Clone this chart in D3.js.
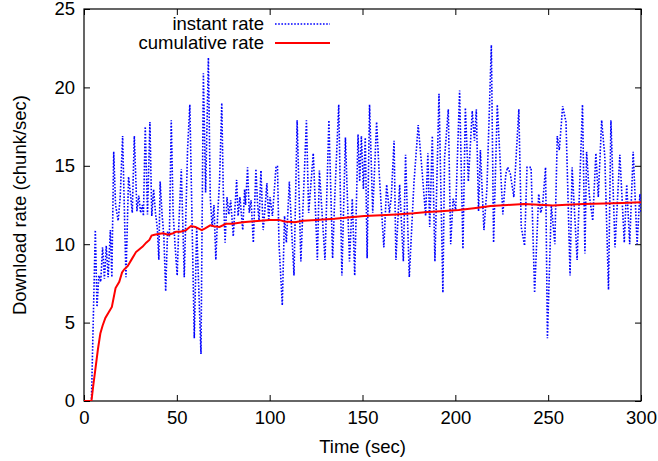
<!DOCTYPE html>
<html>
<head>
<meta charset="utf-8">
<script src="https://cdn.jsdelivr.net/npm/d3@7"></script>
<style>
  html, body { margin: 0; padding: 0; background: #fff; }
  svg { display: block; }
  text { font-family: "Liberation Sans", Arial, Helvetica, sans-serif; fill: #000; }
</style>
</head>
<body>
<svg id="chart" width="658" height="461"></svg>
<script>
// ---- data ----
const xTicks = [0, 50, 100, 150, 200, 250, 300];
const yTicks = [0, 5, 10, 15, 20, 25];
const seriesNames = ["instant rate", "cumulative rate"];

const instantTime = [0,4,6.1,7,8,9,10,11,12,13,14.2,15,16,17,18.4,19.5,20.8,22.6,24,25,26,27.1,28.5,29.5,30.5,31.5,32,33,34.2,35.5,36.5,37.5,38.5,39.5,40.3,41,42,43,44,45,46,47,48,49,50.2,51,52.4,54,55.8,57,59.4,60.7,63,64.3,65.5,67,68,69,70,71,72,73,74.2,75,76,77,78,79,80.4,82.2,83,84,85.5,86.5,87,88.1,89,90,91.2,92.6,93.5,94.3,95.3,96.5,97.3,98.5,99.5,100.2,101.5,103.4,104.2,105,106.8,108,109,110.6,112,113.1,114.8,116.8,119.8,121,123.5,125.7,126.8,129.8,131.9,133.9,135,137.2,138.9,140.8,143,144.5,145.8,147.6,148.5,149.4,150.5,151.5,152.5,153.8,155.5,157.6,159,161.5,163,164.5,165.5,167,168,170,172,173.2,175.2,177.7,180,182,184,185.2,186.2,187.6,189,191.2,193.3,194.2,196.2,197.5,198.8,200.2,202.3,204.1,205.4,207,209.1,210.3,211.3,212.5,213.5,215.4,217,219.4,220.6,222.6,224.3,225.6,227.2,228.2,229.6,231.5,234.2,235.5,237.3,238.6,240.8,242.7,244.9,246,247,248.6,249.6,251.7,253.6,254.9,256,257.8,259.6,261.8,262.9,265.6,267,268.5,269.8,270.7,272.2,274,275.7,277,278.8,280.5,282.5,283.8,286,288.6,291,292.3,293.9,295.8,297.9,299.4,300];
const instantRate = [0,0,10.9,6.0,8.0,7.6,9.8,7.8,9.9,7.9,10.9,7.9,15.9,12.5,11.5,13.0,16.9,7.9,14.3,13.2,12.0,16.9,12.1,13.1,12.0,12.5,11.8,17.5,11.9,17.8,11.8,13.5,12.0,11.0,9.0,14.0,12.0,10.5,7.0,10.8,10.5,17.9,12.0,10.0,8.0,11.0,14.8,7.9,16.1,18.9,4.0,11.1,3.0,20.9,13.3,21.9,13.0,11.1,12.5,9.0,11.9,14.0,19.0,13.5,10.1,13.0,11.9,12.8,10.5,14.1,11.8,13.0,10.9,13.5,12.5,14.9,12.0,12.8,10.1,14.8,12.5,11.5,14.7,10.9,12.0,13.9,11.5,13.0,11.8,14.9,15.0,10.1,6.1,11.8,10.1,14.0,10.5,8.0,17.9,8.9,17.9,12.0,15.8,9.0,14.7,9.0,17.9,9.1,12.8,18.9,8.0,16.8,8.9,12.9,8.0,17.0,14.0,16.9,13.5,16.8,9.1,18.9,12.0,17.8,14.5,9.8,13.8,12.0,13.0,16.6,9.0,13.8,8.9,15.7,7.9,13.9,17.6,14.8,11.8,15.8,11.1,16.9,8.9,19.6,6.9,15.5,18.6,10.0,12.9,12.2,19.8,9.7,18.7,14.0,18.5,16.6,18.6,12.1,16.0,10.9,13.5,22.7,10.1,18.9,14.9,11.9,14.5,14.9,14.5,13.0,18.6,11.1,9.9,14.9,14.9,6.9,13.2,12.0,12.5,14.9,4.0,12.5,10.0,16.9,16.0,18.8,17.8,8.0,14.9,9.0,13.9,18.9,9.4,15.9,13.1,11.5,15.8,13.0,17.9,15.6,7.1,17.9,9.8,15.7,10.1,13.8,10.0,15.9,10.0,13.2,12.0];

const cumulativeTime = [0,4,5,6.1,7.5,8.8,10,11.5,13,15,17,19,20.5,21.7,23.5,25.5,28,30,31.6,33.5,35.2,36.4,38,40,42.5,45.4,48,49.6,52,55,57.6,60,63.4,65,68,70,73,76.5,80,85.5,90,95,100,105,108,113.6,118,125,135,142,151,160,168,177.6,185,192,201.8,210,219,228,237,245,252.5,260,269,280,290,300];
const cumulativeRate = [0,0,1.0,2.0,3.3,4.3,4.8,5.3,5.6,6.0,7.2,7.6,8.2,8.4,8.6,9.0,9.5,9.7,9.85,10.1,10.27,10.55,10.6,10.65,10.7,10.6,10.7,10.8,10.8,10.9,11.16,11.1,10.9,11.0,11.2,11.15,11.1,11.3,11.3,11.4,11.45,11.5,11.55,11.55,11.45,11.4,11.5,11.55,11.62,11.7,11.8,11.85,11.9,11.97,12.05,12.1,12.18,12.3,12.44,12.5,12.56,12.52,12.47,12.52,12.56,12.6,12.63,12.67];

// ---- layout ----
const svg = d3.select("#chart");
const plotLeft = 84, plotRight = 641, plotTop = 9, plotBottom = 401;
const x = d3.scaleLinear().domain([0, 300]).range([plotLeft, plotRight]);
const y = d3.scaleLinear().domain([0, 25]).range([plotBottom, plotTop]);
const fontSize = 18.5;

svg.append("defs").append("clipPath").attr("id", "plotclip")
  .append("rect").attr("x", plotLeft).attr("y", plotTop)
  .attr("width", plotRight - plotLeft).attr("height", plotBottom - plotTop);

// axes with inward ticks on all sides
const tickLen = 6;
const gx = svg.append("g").attr("transform", `translate(0,${plotBottom})`)
  .call(d3.axisBottom(x).tickValues(xTicks).tickSize(-tickLen).tickPadding(10).tickFormat(d3.format("d")));
const gxt = svg.append("g").attr("transform", `translate(0,${plotTop})`)
  .call(d3.axisTop(x).tickValues(xTicks).tickSize(-tickLen).tickFormat(""));
const gy = svg.append("g").attr("transform", `translate(${plotLeft},0)`)
  .call(d3.axisLeft(y).tickValues(yTicks).tickSize(-tickLen).tickPadding(9).tickFormat(d3.format("d")));
const gyr = svg.append("g").attr("transform", `translate(${plotRight},0)`)
  .call(d3.axisRight(y).tickValues(yTicks).tickSize(-tickLen).tickFormat(""));
[gx, gxt, gy, gyr].forEach(g => {
  g.select(".domain").remove();
  g.selectAll(".tick line").attr("stroke", "#000").attr("stroke-width", 1);
  g.selectAll(".tick text").attr("font-size", fontSize)
    .attr("font-family", '"Liberation Sans", Arial, sans-serif').attr("fill", "#000");
});

// frame
svg.append("rect").attr("x", plotLeft).attr("y", plotTop)
  .attr("width", plotRight - plotLeft).attr("height", plotBottom - plotTop)
  .attr("fill", "none").attr("stroke", "#000").attr("stroke-width", 1.2);

// series
const instantData = instantTime.map((t, i) => [t, instantRate[i]]);
const cumulativeData = cumulativeTime.map((t, i) => [t, cumulativeRate[i]]);
const line = d3.line().x(d => x(d[0])).y(d => y(d[1]));

const plot = svg.append("g").attr("clip-path", "url(#plotclip)");
plot.append("path").datum(instantData).attr("d", line)
  .attr("fill", "none").attr("stroke", "#0000ff").attr("stroke-width", 1.6)
  .attr("stroke-dasharray", "1.6,1.6");
plot.append("path").datum(cumulativeData).attr("d", line)
  .attr("fill", "none").attr("stroke", "#ff0000").attr("stroke-width", 2);

// legend
const legend = svg.append("g");
const legY = [24, 43];
const legStyles = [
  { stroke: "#0000ff", width: 1.6, dash: "1.6,1.6" },
  { stroke: "#ff0000", width: 2, dash: null }
];
seriesNames.forEach((name, i) => {
  legend.append("text").attr("x", 264).attr("y", legY[i]).attr("dy", "0.35em")
    .attr("text-anchor", "end").attr("font-size", fontSize).text(name);
  legend.append("line").attr("x1", 275).attr("x2", 330).attr("y1", legY[i]).attr("y2", legY[i])
    .attr("stroke", legStyles[i].stroke).attr("stroke-width", legStyles[i].width)
    .attr("stroke-dasharray", legStyles[i].dash);
});

// axis titles
svg.append("text").attr("x", (plotLeft + plotRight) / 2).attr("y", 453)
  .attr("text-anchor", "middle").attr("font-size", fontSize).text("Time (sec)");
svg.append("text").attr("transform", `translate(26,${(plotTop + plotBottom) / 2}) rotate(-90)`)
  .attr("text-anchor", "middle").attr("font-size", fontSize).text("Download rate (chunk/sec)");
</script>
</body>
</html>
